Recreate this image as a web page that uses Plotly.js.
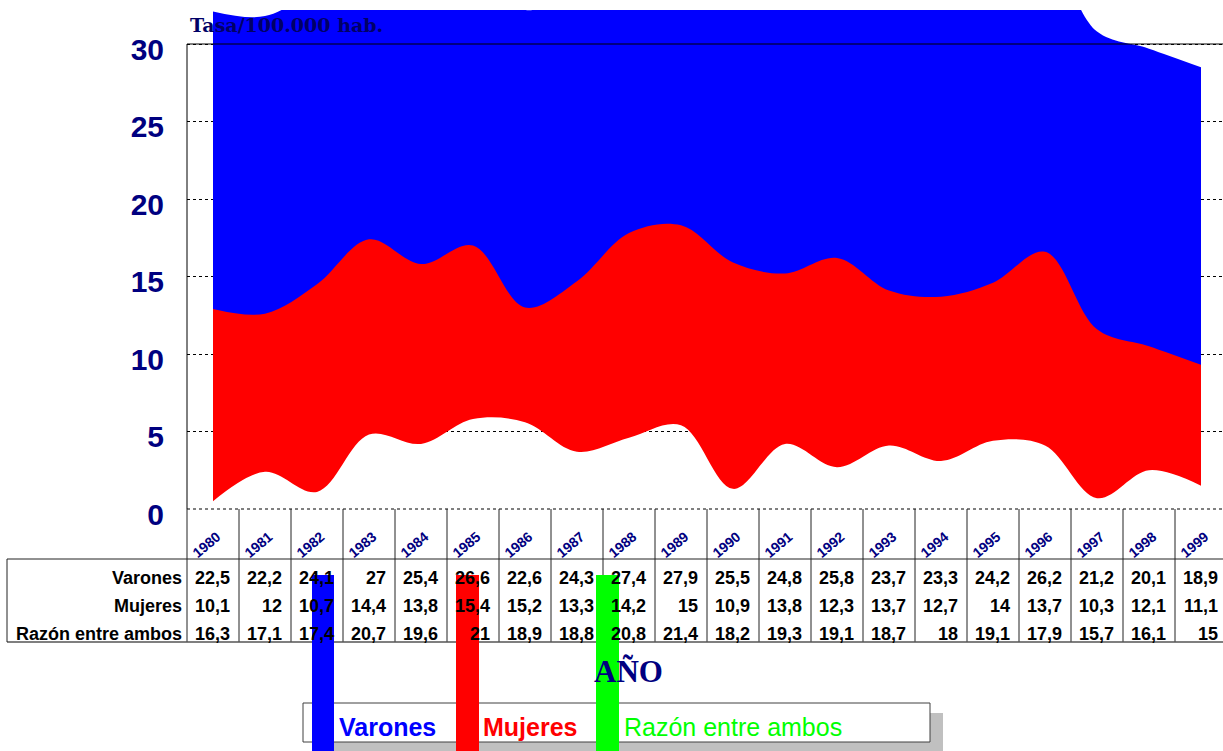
<!DOCTYPE html>
<html>
<head>
<meta charset="utf-8">
<script src="https://cdn.plot.ly/plotly-3.0.1.min.js"></script>
<style>
  html, body { margin: 0; padding: 0; background: #fff; overflow: hidden; }
  #chart { width: 1223px; height: 751px; }
</style>
</head>
<body>
<div id="chart"></div>
<script>
// ---- data ----
const years = [1980, 1981, 1982, 1983, 1984, 1985, 1986, 1987, 1988, 1989,
               1990, 1991, 1992, 1993, 1994, 1995, 1996, 1997, 1998, 1999];
const varones = [22.5, 22.2, 24.1, 27, 25.4, 26.6, 22.6, 24.3, 27.4, 27.9,
                 25.5, 24.8, 25.8, 23.7, 23.3, 24.2, 26.2, 21.2, 20.1, 18.9];
const mujeres = [10.1, 12, 10.7, 14.4, 13.8, 15.4, 15.2, 13.3, 14.2, 15,
                 10.9, 13.8, 12.3, 13.7, 12.7, 14, 13.7, 10.3, 12.1, 11.1];
const razon = [16.3, 17.1, 17.4, 20.7, 19.6, 21, 18.9, 18.8, 20.8, 21.4,
               18.2, 19.3, 19.1, 18.7, 18, 19.1, 17.9, 15.7, 16.1, 15];
const seriesNames = ['Varones', 'Mujeres', 'Razón entre ambos'];
const yTicks = [0, 5, 10, 15, 20, 25, 30];
const yTitle = 'Tasa/100.000 hab.';
const xTitle = 'AÑO';

// ---- styling / layout constants ----
const colors = { 'Varones': '#0000FF', 'Mujeres': '#FF0000', 'Razón entre ambos': '#00FF00' };
const navy = '#000080';
const ribbon = 9.6;            // half thickness of each drawn ribbon band
const W = 1223, H = 751;
const L = 187, R = 0, T = 10, B = 242;
const plotW = W - L - R, plotH = H - T - B;
const colW = 52;               // px per year column
const pxPerUnit = 15.5;
const xRange = [years[0] - 0.5, years[0] - 0.5 + plotW / colW];
const yRange = [0, plotH / pxPerUnit];
const px2x = px => (px - L) / plotW;
const py2y = py => (H - B - py) / plotH;
const sans = 'Liberation Sans, Arial, sans-serif';
const serif = 'Liberation Serif, Times New Roman, serif';
const slab = 'DejaVu Serif, serif';
const fmt = v => String(v).replace('.', ',');

const seriesData = { 'Varones': varones, 'Mujeres': mujeres, 'Razón entre ambos': razon };

// ---- traces: each series as a filled spline ribbon (drawn back to front) ----
const traces = [];
['Razón entre ambos', 'Mujeres', 'Varones'].forEach(name => {
  const vals = seriesData[name];
  traces.push({
    x: years, y: vals.map(v => v - ribbon), type: 'scatter', mode: 'lines',
    line: { width: 0, shape: 'spline', smoothing: 1 }, hoverinfo: 'skip', showlegend: false
  });
  traces.push({
    x: years, y: vals.map(v => v + ribbon), type: 'scatter', mode: 'lines', name: name,
    line: { width: 0, shape: 'spline', smoothing: 1 }, fill: 'tonexty',
    fillcolor: colors[name], hoverinfo: 'skip', showlegend: false
  });
});

// ---- shapes: axis lines, data table grid, legend ----
const shapes = [];
const lineCol = '#222';
shapes.push({ type: 'line', xref: 'paper', yref: 'y', x0: 0, x1: 1, y0: 30, y1: 30,
              line: { color: '#000', width: 1 }, layer: 'above' });
shapes.push({ type: 'line', xref: 'paper', yref: 'paper', x0: 0, x1: 0, y0: 0, y1: 30 / yRange[1],
              line: { color: '#000', width: 1 }, layer: 'above' });
shapes.push({ type: 'line', xref: 'paper', yref: 'paper', x0: 0, x1: 1, y0: 0, y1: 0,
              line: { color: '#000', width: 1, dash: '3px,3px' } });
for (let k = 0; k <= years.length; k++) {
  const xe = (years[0] - 0.5 + k - xRange[0]) / (xRange[1] - xRange[0]);
  shapes.push({ type: 'line', xref: 'paper', yref: 'paper', x0: xe, x1: xe,
                y0: py2y(509), y1: py2y(642), line: { color: lineCol, width: 1 } });
}
shapes.push({ type: 'line', xref: 'paper', yref: 'paper', x0: px2x(7), x1: 1.01,
              y0: py2y(559), y1: py2y(559), line: { color: lineCol, width: 1 } });
shapes.push({ type: 'line', xref: 'paper', yref: 'paper', x0: px2x(7), x1: 1.01,
              y0: py2y(642), y1: py2y(642), line: { color: '#555', width: 1.5 } });
shapes.push({ type: 'line', xref: 'paper', yref: 'paper', x0: px2x(7), x1: px2x(7),
              y0: py2y(559), y1: py2y(642), line: { color: lineCol, width: 1 } });
shapes.push({ type: 'rect', xref: 'paper', yref: 'paper', x0: px2x(316), x1: px2x(943),
              y0: py2y(713), y1: py2y(752), fillcolor: '#c0c0c0', line: { width: 0 } });
shapes.push({ type: 'rect', xref: 'paper', yref: 'paper', x0: px2x(303), x1: px2x(930),
              y0: py2y(703), y1: py2y(742), fillcolor: '#fff', line: { color: '#404040', width: 1 } });
const keyPos = { 'Varones': [312, 334], 'Mujeres': [456, 479], 'Razón entre ambos': [596, 619] };
seriesNames.forEach(name => {
  shapes.push({ type: 'rect', xref: 'paper', yref: 'paper', x0: px2x(keyPos[name][0]), x1: px2x(keyPos[name][1]),
                y0: py2y(575), y1: py2y(760), fillcolor: colors[name], line: { width: 0 } });
});

// ---- annotations ----
const ann = [];
ann.push({ text: yTitle, xref: 'paper', yref: 'paper', x: px2x(188), y: py2y(25),
           xanchor: 'left', yanchor: 'middle', showarrow: false,
           font: { family: slab, size: 19, color: '#000066', weight: 'bold' } });
ann.push({ text: xTitle, xref: 'paper', yref: 'paper', x: px2x(628), y: py2y(671),
           xanchor: 'center', yanchor: 'middle', showarrow: false,
           font: { family: serif, size: 31, color: navy, weight: 'bold' } });
years.forEach(yr => {
  ann.push({ text: String(yr), xref: 'x', yref: 'paper', x: yr, xshift: -7, y: py2y(545),
             xanchor: 'center', yanchor: 'middle', textangle: -40, showarrow: false,
             font: { family: sans, size: 14, color: navy, weight: 'bold' } });
});
const rowY = [577, 605, 633];
seriesNames.forEach((name, r) => {
  ann.push({ text: name, xref: 'paper', yref: 'paper', x: px2x(184), y: py2y(rowY[r] + 1),
             xanchor: 'right', yanchor: 'middle', showarrow: false,
             font: { family: sans, size: 18, color: '#000', weight: 'bold' } });
  seriesData[name].forEach((v, i) => {
    ann.push({ text: fmt(v), xref: 'x', yref: 'paper', x: years[i], xshift: 19, y: py2y(rowY[r] + 1),
               xanchor: 'right', yanchor: 'middle', showarrow: false,
               font: { family: sans, size: 18, color: '#000', weight: 'bold' } });
  });
});
const legX = { 'Varones': 337, 'Mujeres': 481, 'Razón entre ambos': 622 };
seriesNames.forEach(name => {
  ann.push({ text: name, xref: 'paper', yref: 'paper', x: px2x(legX[name]), y: py2y(727),
             xanchor: 'left', yanchor: 'middle', showarrow: false,
             font: { family: sans, size: 25, color: colors[name],
                     weight: name === 'Razón entre ambos' ? 'normal' : 'bold' } });
});

const layout = {
  width: W, height: H,
  margin: { l: L, r: R, t: T, b: B, pad: 0 },
  paper_bgcolor: '#fff', plot_bgcolor: '#fff',
  showlegend: false,
  xaxis: { range: xRange, showgrid: false, zeroline: false, showticklabels: false,
           showline: false, ticks: '', fixedrange: true },
  yaxis: { range: yRange, tickvals: yTicks, ticktext: yTicks.map(String),
           showgrid: true, gridcolor: '#000', gridwidth: 1, griddash: '3px,3px',
           zeroline: false, showline: false, ticks: '',
           ticklabelstandoff: 22, ticklabelshift: 5,
           tickfont: { family: sans, size: 30, color: navy, weight: 'bold' }, fixedrange: true },
  shapes: shapes,
  annotations: ann
};

Plotly.newPlot('chart', traces, layout, { staticPlot: true, displayModeBar: false });
</script>
</body>
</html>
